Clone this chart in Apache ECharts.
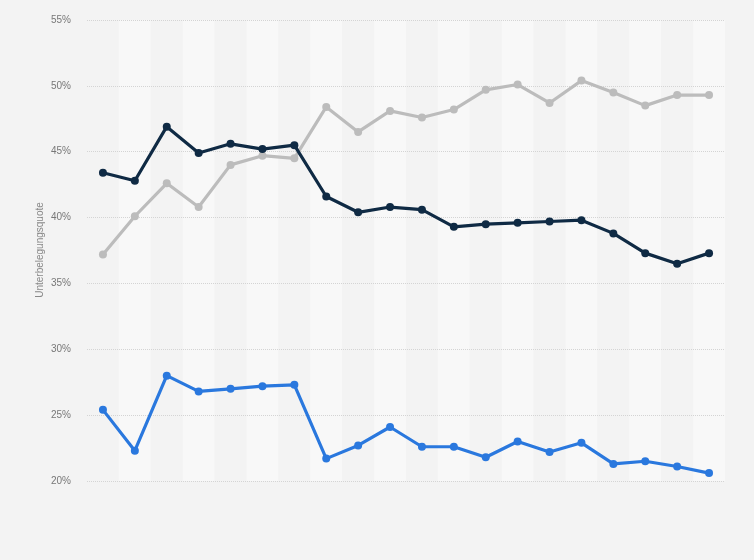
<!DOCTYPE html>
<html>
<head>
<meta charset="utf-8">
<script src="https://cdn.jsdelivr.net/npm/echarts@6/dist/echarts.min.js"></script>
<style>html,body{margin:0;padding:0;background:#f3f3f3;}#c{width:754px;height:560px;}</style>
</head>
<body>
<div id="c"></div>
<script>
var categories = ['1','2','3','4','5','6','7','8','9','10','11','12','13','14','15','16','17','18','19','20'];
var yTicks = [20, 25, 30, 35, 40, 45, 50, 55];
var yAxisTitle = 'Unterbelegungsquote';
var seriesGray = [37.2, 40.1, 42.6, 40.8, 44.0, 44.7, 44.5, 48.4, 46.5, 48.1, 47.6, 48.2, 49.7, 50.1, 48.7, 50.4, 49.5, 48.5, 49.3, 49.3];
var seriesNavy = [43.4, 42.8, 46.9, 44.9, 45.6, 45.2, 45.5, 41.6, 40.4, 40.8, 40.6, 39.3, 39.5, 39.6, 39.7, 39.8, 38.8, 37.3, 36.5, 37.3];
var seriesBlue = [25.4, 22.3, 28.0, 26.8, 27.0, 27.2, 27.3, 21.7, 22.7, 24.1, 22.6, 22.6, 21.8, 23.0, 22.2, 22.9, 21.3, 21.5, 21.1, 20.6];

var chart = echarts.init(document.getElementById('c'), null, {renderer: 'canvas'});
function mk(data, color) {
  return {
    type: 'line', data: data, symbol: 'circle', symbolSize: 8, z: 5,
    lineStyle: {width: 3.2, color: color}, itemStyle: {color: color},
    emphasis: {disabled: true}, animation: false
  };
}
chart.setOption({
  backgroundColor: '#f3f3f3',
  animation: false,
  grid: {left: 87, right: 29, top: 20, bottom: 79},
  graphic: [{
    type: 'text', x: 40, y: 250, rotation: Math.PI / 2,
    style: {text: yAxisTitle, align: 'center', verticalAlign: 'middle', fill: '#888', font: '10px "Liberation Sans", Arial, sans-serif'}
  }],
  xAxis: {
    type: 'category', data: categories, boundaryGap: true, z: 0,
    axisLine: {show: false}, axisTick: {show: false}, axisLabel: {show: false},
    splitArea: {show: true, areaStyle: {color: ['#f3f3f3', '#f8f8f8']}}
  },
  yAxis: {
    type: 'value', min: yTicks[0], max: yTicks[yTicks.length - 1], interval: 5, z: 1,
    axisLine: {show: false}, axisTick: {show: false},
    axisLabel: {formatter: '{value}%', color: '#777', fontSize: 10, margin: 16, fontFamily: 'Liberation Sans, Arial, sans-serif'},
    splitLine: {show: true, lineStyle: {type: 'dotted', color: '#d4d4d4', width: 1}}
  },
  series: [mk(seriesGray, '#bcbcbc'), mk(seriesNavy, '#0f2a44'), mk(seriesBlue, '#2a78de')]
});
</script>
</body>
</html>
